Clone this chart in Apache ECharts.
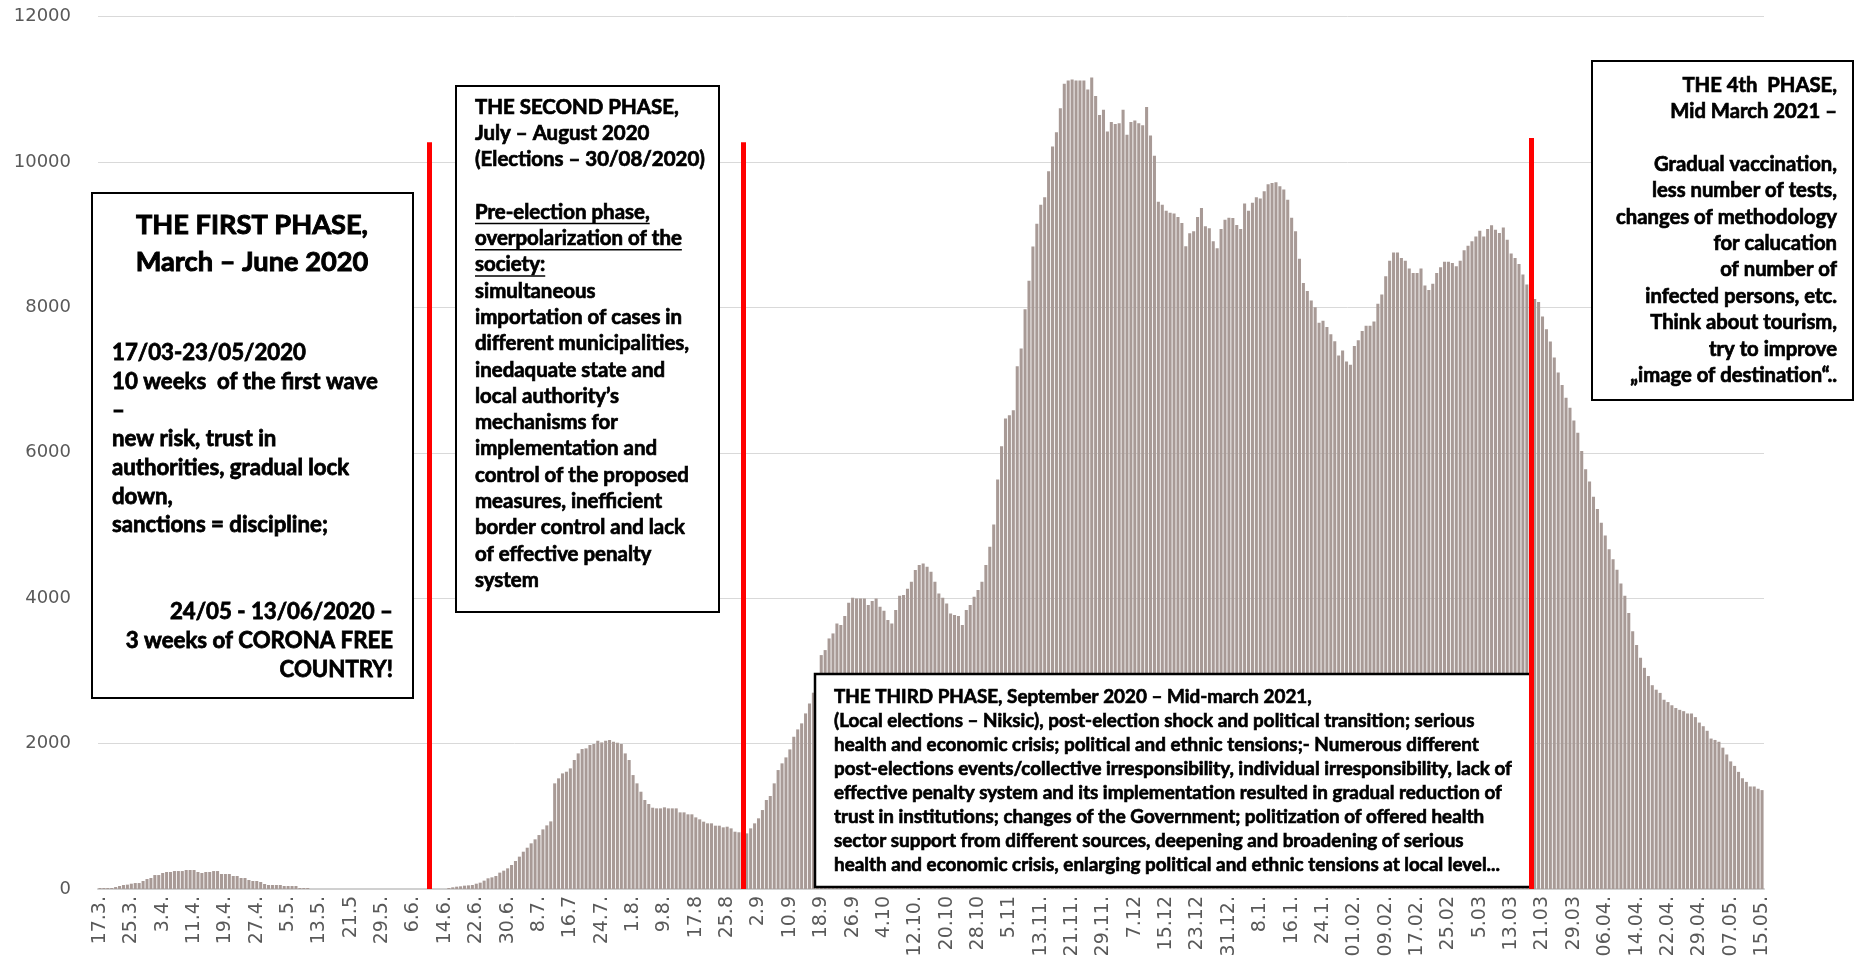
<!DOCTYPE html>
<html>
<head>
<meta charset="utf-8">
<script src="https://cdn.jsdelivr.net/npm/echarts@6/dist/echarts.min.js"></script>
<style>
html,body{margin:0;padding:0;background:#fff;}
#chart{width:1854px;height:967px;}
</style>
</head>
<body>
<div id="chart"></div>
<script>
// ---- tick labels (every 8th day) ----
const tickLabels = ['17.3.','25.3.','3.4.','11.4.','19.4.','27.4.','5.5.','13.5.','21.5','29.5.','6.6.','14.6.','22.6.','30.6.','8.7.','16.7','24.7.','1.8.','9.8.','17.8','25.8','2.9','10.9','18.9','26.9','4.10','12.10.','20.10','28.10','5.11','13.11.','21.11.','29.11.','7.12','15.12','23.12','31.12.','8.1.','16.1.','24.1.','01.02.','09.02.','17.02.','25.02','5.03','13.03','21.03','29.03','06.04.','14.04.','22.04.','29.04.','07.05.','15.05.'];

// ---- daily values, split by phase ----
const phase1Cases = [14,14,14,14,27,41,55,60,73,82,82,110,137,151,192,192,220,234,234,247,247,247,261,261,261,234,220,234,234,247,247,206,206,206,179,179,151,151,124,110,110,96,69,55,55,55,55,41,41,41,41,14,14,14,
0,0,0,0,0,0,0,0,0,0,0,0,0,0,0,0,0,0,0,0,0,0,0,0,0,0,0,0,0,0];
const phase2Cases = [0,0,0,0,0,14,23,32,37,46,50,55,73,87,115,147,160,179,225,252,284,330,385,445,513,568,628,683,742,820,875,930,
1453,1522,1590,1613,1659,1774,1865,1925,1934,1980,1994,2039,2016,2039,2049,2026,2012,1994,1865,1774,1567,1453,1338,1224,1169,1118,1109,1109,1123,1109,1109,1109,1054,1054,1027,1027,985,958,926,903,903,871,871,848,857,834,788,780];
const phase3Cases = [770,
765,834,903,972,1086,1224,1279,1453,1636,1728,1810,1920,2094,2195,2278,2415,2553,2700,2950,
3217,3286,3446,3515,3653,3630,3754,3937,4006,3996,3996,3996,3905,3960,3996,3882,3827,3699,3653,3836,4033,4042,
4130,4226,4386,4455,4478,4432,4363,4226,4065,4006,3928,3790,3767,3754,3630,3836,3905,4019,4111,4226,4455,4707,5014,5633,6091,
6471,6516,6583,7188,7434,7972,8364,8835,9149,9412,9513,9871,10213,10409,10739,11076,11120,11132,11120,11120,
11120,10997,11160,10908,10644,10717,10420,10549,10521,10532,10717,10375,10549,10571,10532,10504,10756,10364,10084,9451,
9412,9328,9300,9289,9244,9160,8840,9020,9048,9244,9367,9115,9087,8908,8812,9076,9205,9233,9227,9132,
9076,9429,9328,9440,9513,9496,9597,9692,9709,9720,9664,9619,9479,9233,9048,8667,8336,8224,8095,8000,
7787,7815,7731,7630,7535,7339,7406,7255,7210,7468,7546,7675,7748,7748,7804,
8050,8176,8427,8640,8753,8753,8678,8640,8533,8471,8471,8533,8301,8238,8326,8471,8552,8628,8628,8609,
8565,8640,8785,8847,8910,8973,9054,8973,9079,9130,9067,9023,9098,8929,8741,8678,8596,8452,8314];
const phase4Cases = [8200,8113,8075,7874,7699,7529,7310,7103,6933,6757,6619,6444,6274,6023,5772,5603,5396,5226,5038,4862,
4674,4536,4391,4203,4034,3795,3544,3356,3180,3042,2929,2803,2741,2697,2603,2571,2527,2489,2464,2446,
2414,2414,2364,2289,2239,2176,2069,2050,2025,1944,1850,1755,1693,1611,1523,1473,1410,1410,1379,1360];

// phase boundaries (day index) and the heights of the red separator lines
const phaseBreaks = [84, 164, 365];
const phaseLineTops = [10270, 10270, 10330];

// ---- annotation texts ----
const box1Title = ['THE FIRST PHASE,', 'March \u2013 June 2020'];
const box1Body = ['17/03-23/05/2020', '10 weeks  of the first wave', '\u2013', 'new risk, trust in', 'authorities, gradual lock', 'down,', 'sanctions = discipline;'];
const box1Foot = ['24/05 - 13/06/2020 \u2013', '3 weeks of CORONA FREE', 'COUNTRY!'];
const box2Lines = ['THE SECOND PHASE,', 'July \u2013 August 2020', '(Elections \u2013 30/08/2020)', '', 'Pre-election phase,', 'overpolarization of the', 'society:', 'simultaneous', 'importation of cases in', 'different municipalities,', 'inedaquate state and', 'local authority\u2019s', 'mechanisms for', 'implementation and', 'control of the proposed', 'measures, inefficient', 'border control and lack', 'of effective penalty', 'system'];
const box2Underlined = [4, 5, 6];
const box3Lines = ['THE THIRD PHASE, September 2020 \u2013 Mid-march 2021,', '(Local elections \u2013 Niksic), post-election shock and political transition; serious', 'health and economic crisis; political and ethnic tensions;- Numerous different', 'post-elections events/collective irresponsibility, individual irresponsibility, lack of', 'effective penalty system and its implementation resulted in gradual reduction of', 'trust in institutions; changes of the Government; politization of offered health', 'sector support from different sources, deepening and broadening of serious', 'health and economic crisis, enlarging political and ethnic tensions at local level...'];
const box4Lines = ['THE 4th  PHASE,', 'Mid March 2021 \u2013', '', 'Gradual vaccination,', 'less number of tests,', 'changes of methodology', 'for calucation', 'of number of', 'infected persons, etc.', 'Think about tourism,', 'try to improve', '\u201eimage of destination\u201c..'];

// ---- build ----
const cases = phase1Cases.concat(phase2Cases, phase3Cases, phase4Cases);
const days = cases.map((_, i) => String(i));

const FONT = 'Lato';
const WEIGHT = 'bold';
const mctx = document.createElement('canvas').getContext('2d');
function measure(text, size) { mctx.font = WEIGHT + ' ' + size + 'px ' + FONT; return mctx.measureText(text).width; }
function fit(text, target) { return 100 * target / measure(text, 100); }

const elements = [];
function rect(x, y, w, h, lw) {
  elements.push({ type: 'rect', z: 50, shape: { x: x, y: y, width: w, height: h }, style: { fill: '#fff', stroke: '#000', lineWidth: lw || 2 } });
}
function txt(text, x, y, size, align) {
  elements.push({ type: 'text', z: 60, style: { text: text, x: x, y: y, fill: '#000', stroke: '#000', lineWidth: size * 0.035, font: WEIGHT + ' ' + size.toFixed(2) + 'px ' + FONT, align: align, textAlign: align, verticalAlign: 'middle', textVerticalAlign: 'middle' } });
}

// Box 1
rect(92, 193, 321, 505, 2);
const s1t = fit(box1Title[0], 232);
box1Title.forEach((t, k) => txt(t, 252, 225 + 37 * k, s1t, 'center'));
const s1b = fit(box1Body[1], 266);
box1Body.forEach((t, k) => txt(t, 112, 353 + 28.7 * k, s1b, 'left'));
box1Foot.forEach((t, k) => txt(t, 393, 612 + 28.7 * k, s1b, 'right'));

// Box 2
rect(456, 86, 263, 526, 2);
const s2 = fit(box2Lines[14], 214);
box2Lines.forEach((t, k) => {
  const y = 107 + 26.3 * k;
  if (t) txt(t, 475, y, s2, 'left');
  if (box2Underlined.indexOf(k) >= 0) {
    const w = measure(t, s2);
    elements.push({ type: 'line', z: 60, shape: { x1: 475, y1: y + s2 * 0.55, x2: 475 + w, y2: y + s2 * 0.55 }, style: { stroke: '#000', lineWidth: 1.5 } });
  }
});

// Box 3
rect(815, 674, 717, 213, 2.5);
const s3 = fit(box3Lines[3], 678);
box3Lines.forEach((t, k) => txt(t, 834, 696.5 + 24 * k, s3, 'left'));

// Box 4
rect(1592, 61, 261, 339, 2);
const s4 = fit(box4Lines[5], 221);
box4Lines.forEach((t, k) => { if (t) txt(t, 1837, 85 + 26.4 * k, s4, 'right'); });

const chart = echarts.init(document.getElementById('chart'), null, { renderer: 'canvas' });
chart.setOption({
  animation: false,
  backgroundColor: '#fff',
  grid: { left: 98, right: 90, top: 16.5, bottom: 78, containLabel: false },
  xAxis: {
    type: 'category',
    data: days,
    boundaryGap: true,
    axisLine: { lineStyle: { color: '#d0d0d0', width: 2 } },
    axisTick: { show: false },
    axisLabel: {
      interval: 7,
      rotate: 90,
      margin: 7,
      color: '#595959',
      fontFamily: 'DejaVu Sans',
      fontSize: 19,
      formatter: function (v, idx) { return tickLabels[idx / 8] || ''; }
    },
    splitLine: { show: false }
  },
  yAxis: {
    type: 'value',
    min: 0, max: 12000, interval: 2000,
    axisLine: { show: false },
    axisTick: { show: false },
    axisLabel: { color: '#595959', fontFamily: 'DejaVu Sans', fontSize: 18, margin: 27, formatter: function (v) { return String(v); } },
    splitLine: { lineStyle: { color: '#d9d9d9', width: 1 } }
  },
  series: [
    {
      type: 'bar',
      data: cases,
      barCategoryGap: '22%',
      itemStyle: { color: '#a89a96' },
      silent: true,
      z: 2
    },
    {
      type: 'line',
      data: [],
      z: 100,
      silent: true,
      markLine: {
        z: 100,
        silent: true,
        symbol: ['none', 'none'],
        label: { show: false },
        lineStyle: { color: '#ff0000', width: 5, type: 'solid' },
        emphasis: { disabled: true },
        data: phaseBreaks.map((d, k) => [{ coord: [d, 0] }, { coord: [d, phaseLineTops[k]] }])
      }
    }
  ],
  graphic: { elements: elements }
});
</script>
</body>
</html>
